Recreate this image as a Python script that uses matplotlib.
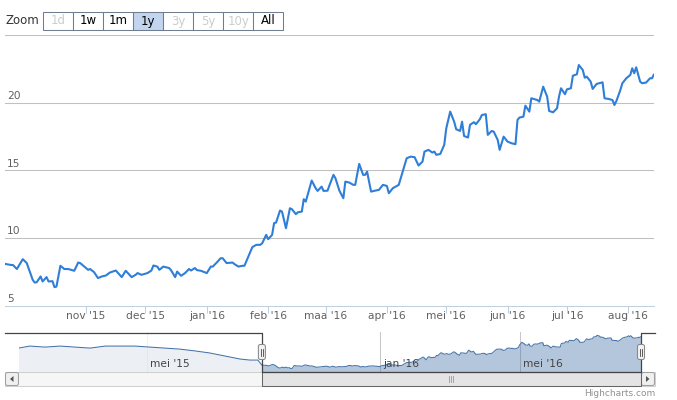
import matplotlib
matplotlib.use("Agg")
import matplotlib.pyplot as plt
import matplotlib.dates as mdates
from matplotlib.patches import Rectangle, FancyBboxPatch, Polygon
import numpy as np
import pandas as pd

# day offsets from 1 Nov 2015 and the price
base_day = pd.Timestamp("2015-11-01")
main_days = [
    -41, -38, -37, -35, -32, -30, -27, -26, -25, -23,
    -22, -20, -19, -17, -16, -15, -13, -11, -9, -6,
    -4, -3, 1, 2, 4, 6, 8, 10, 12, 15,
    18, 20, 23, 25, 26, 28, 31, 33, 34, 36,
    37, 39, 42, 43, 45, 46, 48, 50, 52, 53,
    55, 56, 58, 61, 63, 64, 66, 68, 69, 71,
    74, 75, 77, 79, 80, 82, 84, 86, 88, 89,
    91, 92, 94, 95, 96, 98, 99, 101, 103, 104,
    106, 107, 109, 110, 111, 114, 116, 117, 119, 120,
    122, 123, 125, 126, 128, 130, 131, 133, 135, 136,
    138, 140, 141, 142, 144, 146, 148, 150, 152, 153,
    155, 158, 159, 160, 162, 164, 166, 168, 170, 171,
    173, 175, 176, 177, 179, 181, 182, 184, 186, 187,
    189, 190, 191, 193, 194, 196, 197, 199, 200, 202,
    203, 205, 206, 208, 209, 211, 213, 215, 217, 218,
    219, 221, 222, 224, 225, 228, 229, 231, 233, 234,
    236, 238, 239, 240, 242, 243, 245, 246, 248, 249,
    251, 252, 253, 255, 256, 258, 261, 262, 264, 266,
    267, 268, 270, 271, 273, 275, 276, 277, 278, 280,
    281, 283, 285, 286, 287,
]
main_values = [
    8.08, 8.0, 8.0, 7.7, 8.43, 8.14, 6.9, 6.7, 6.72, 7.15,
    6.78, 7.1, 6.78, 6.8, 6.36, 6.4, 7.94, 7.7, 7.7, 7.57,
    8.18, 8.14, 7.64, 7.7, 7.47, 7.03, 7.15, 7.22, 7.44, 7.59,
    7.1, 7.57, 7.1, 7.27, 7.4, 7.27, 7.4, 7.59, 7.96, 7.88,
    7.64, 7.88, 7.77, 7.59, 7.1, 7.51, 7.2, 7.4, 7.7, 7.59,
    7.77, 7.62, 7.57, 7.4, 7.88, 7.88, 8.18, 8.5, 8.5, 8.14,
    8.18, 8.06, 7.88, 7.94, 7.94, 8.63, 9.32, 9.49, 9.49, 9.61,
    10.23, 9.91, 10.23, 11.1, 11.14, 12.03, 11.95, 10.72, 12.2, 12.13,
    11.76, 11.9, 11.95, 12.87, 12.69, 14.25, 13.68, 13.48, 13.8, 13.48,
    13.5, 13.9, 14.67, 14.42, 13.5, 12.94, 14.17, 14.1, 13.93, 13.93,
    15.48, 14.67, 14.67, 14.91, 13.43, 13.5, 13.56, 13.93, 13.85, 13.31,
    13.68, 13.93, 14.42, 14.91, 15.9, 16.02, 15.98, 15.36, 15.65, 16.39,
    16.52, 16.32, 16.39, 16.15, 16.22, 16.9, 18.1, 19.35, 18.61, 18.05,
    17.92, 18.61, 17.55, 17.43, 18.37, 18.57, 18.42, 18.79, 19.1, 19.16,
    17.63, 17.92, 17.87, 17.26, 16.52, 17.5, 17.13, 17.01, 16.94, 18.73,
    18.91, 18.98, 19.79, 19.35, 20.34, 20.21, 20.09, 21.2, 20.46, 19.4,
    19.3, 19.6, 20.46, 21.08, 20.64, 21.0, 21.08, 22.01, 22.11, 22.8,
    22.43, 21.86, 21.94, 21.57, 21.03, 21.4, 21.52, 20.34, 20.29, 20.21,
    19.84, 20.14, 20.95, 21.45, 21.82, 22.06, 22.56, 22.19, 22.63, 21.57,
    21.45, 21.5, 21.82, 21.82, 22.11,
]
assert len(main_days) == len(main_values)

# older history, only visible in the navigator
early_days = [-344, -330, -311, -292, -274, -255, -236, -218, -199, -180,
              -162, -143, -124, -106, -87, -68, -56, -46]
early_values = [16.5, 17.5, 17.0, 17.5, 17.0, 16.5, 17.5, 17.5, 17.5, 17.0,
                16.5, 16.0, 15.1, 14.1, 12.6, 11.1, 10.6, 10.6]

nl_months = ["jan", "feb", "maa", "apr", "mei", "jun",
             "jul", "aug", "sep", "okt", "nov", "dec"]
main_ticks = ["2015-11-01", "2015-12-01", "2016-01-01", "2016-02-01",
              "2016-03-01", "2016-04-01", "2016-05-01", "2016-06-01",
              "2016-07-01", "2016-08-01"]
nav_ticks = ["2015-05-01", "2016-01-01", "2016-05-01"]
y_grid = [10, 15, 20, 25]
y_labels = [5, 10, 15, 20]
buttons = ["1d", "1w", "1m", "1y", "3y", "5y", "10y", "All"]
disabled = ["1d", "3y", "5y", "10y"]
selected = "1y"


def month_label(d):
    return f"{nl_months[d.month - 1]} '{d:%y}"


main_dates = base_day + pd.to_timedelta(main_days, unit="D")
nav_dates = base_day + pd.to_timedelta(early_days + main_days, unit="D")
nav_values = early_values + main_values

W, H = 677, 400
fig = plt.figure(figsize=(W / 100, H / 100), dpi=100)
fig.patch.set_facecolor("white")

# main chart
ax = fig.add_axes([5 / W, 1 - 305.5 / H, 649 / W, 270.2 / H])
for v in y_grid:
    ax.axhline(v, color="#C0C0C0", lw=0.75, zorder=0)
ax.plot(main_dates, main_values, color="#2F7ED8", lw=1.5,
        solid_joinstyle="round", solid_capstyle="round", zorder=3)
ax.set_xlim(main_dates[0], main_dates[-1])
ax.set_ylim(5, 25)
for s in ["left", "right", "top"]:
    ax.spines[s].set_visible(False)
ax.spines["bottom"].set_color("#C0D0E0")
ax.spines["bottom"].set_linewidth(0.75)
ax.set_yticks([])
tick_dates = pd.to_datetime(main_ticks)
ax.set_xticks(tick_dates)
ax.set_xticklabels([month_label(d) for d in tick_dates])
ax.tick_params(axis="x", length=5, width=0.75, color="#C0D0E0",
               labelcolor="#606060", labelsize=7.7, pad=-1)
for v in y_labels:
    ax.annotate(str(v), xy=(0, v), xycoords=("axes fraction", "data"),
                xytext=(2, 1.5), textcoords="offset pixels",
                ha="left", va="bottom", fontsize=7.7, color="#606060")

# navigator: the older history is squeezed into the left part (ordinal-like axis)
nav = fig.add_axes([18.5 / W, 1 - 372 / H, (641 - 18.5) / W, 40 / H])
history_share = 0.391
x_anchor = [mdates.date2num(nav_dates[0]), mdates.date2num(main_dates[0]),
            mdates.date2num(nav_dates[-1])]
u_anchor = [0.0, history_share, 1.0]
nav.set_xscale("function", functions=(
    lambda x: np.interp(x, x_anchor, u_anchor),
    lambda u: np.interp(u, u_anchor, x_anchor)))
lo, hi = min(nav_values), max(nav_values)
pad = (hi - lo) * 0.1
nav.fill_between(nav_dates, nav_values, lo - pad, color="#4572A7",
                 alpha=0.4, lw=0)
nav.plot(nav_dates, nav_values, color="#4572A7", lw=0.75)
for t in pd.to_datetime(nav_ticks):
    nav.axvline(t, color="#C8C8C8", lw=0.75, zorder=0)
    nav.annotate(month_label(t), xy=(t, 0), xycoords=("data", "axes fraction"),
                 xytext=(3, 3), textcoords="offset pixels", ha="left",
                 va="bottom", fontsize=7.7, color="#444444")
nav.axvspan(nav_dates[0], main_dates[0], color="white", alpha=0.75, lw=0)
nav.set_xlim(x_anchor[0], x_anchor[-1])
nav.set_ylim(lo - pad, hi + pad)
nav.axis("off")

# overlay in pixel coordinates for the range selector / scrollbar
ui = fig.add_axes([0, 0, 1, 1])
ui.set_xlim(0, W)
ui.set_ylim(H, 0)
ui.axis("off")
ui.patch.set_alpha(0)

ui.text(5, 21, "Zoom", ha="left", va="center", fontsize=8.5, color="#333333")
bx, bw = 43.3, 30
for i, b in enumerate(buttons):
    fc = "#C3D5EE" if b == selected else "white"
    ui.add_patch(Rectangle((bx + i * bw, 11.5), bw, 18.5, fc=fc,
                           ec="#6E7E90", lw=0.75))
    ui.text(bx + i * bw + bw / 2, 21, b, ha="center", va="center",
            fontsize=8.5, color="#CCCCCC" if b in disabled else "black")

hx1 = nav.transData.transform((x_anchor[1], 0))[0]
hx2 = nav.transData.transform((x_anchor[2], 0))[0]

# scrollbar
ui.add_patch(Rectangle((5, 372), 650, 14, fc="#F6F6F6", ec="#D0D0D0", lw=0.75))
for x0 in (5, 641):
    ui.add_patch(FancyBboxPatch((x0 + 0.5, 372.5), 13, 13,
                                boxstyle="round,pad=0,rounding_size=2",
                                fc="#F0F0F0", ec="#A0A0A0", lw=0.75))
ui.add_patch(Polygon([(13.5, 376), (13.5, 382), (10, 379)], fc="#555555", ec="none"))
ui.add_patch(Polygon([(646, 376), (646, 382), (649.5, 379)], fc="#555555", ec="none"))
ui.add_patch(Rectangle((hx1, 372), hx2 - hx1, 14, fc="#E4E4E4", ec="#666666", lw=0.75))
mid = (hx1 + hx2) / 2
for dx in (-2, 0, 2):
    ui.plot([mid + dx, mid + dx], [376, 382], color="#999999", lw=0.6)

# navigator outline and handles
ui.plot([5, hx1, hx1, hx2, hx2, 655], [332.5, 332.5, 372, 372, 332.5, 332.5],
        color="#444444", lw=0.9)
for hx in (hx1, hx2):
    ui.add_patch(FancyBboxPatch((hx - 3.5, 344.5), 7, 15,
                                boxstyle="round,pad=0,rounding_size=2",
                                fc="#F2F2F2", ec="#888888", lw=0.75, zorder=5))
    for dx in (-1, 1):
        ui.plot([hx + dx, hx + dx], [348.5, 355.5], color="#444444", lw=0.6, zorder=6)

ui.text(655, 393.5, "Highcharts.com", ha="right", va="center",
        fontsize=6.5, color="#909090")

fig.savefig("out.png", dpi=100)
